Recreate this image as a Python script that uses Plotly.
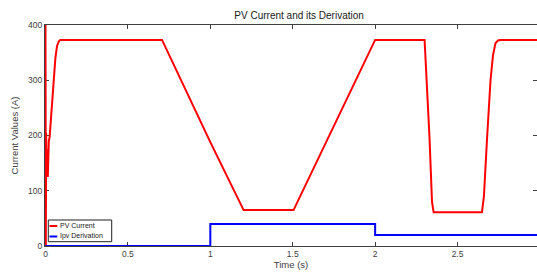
import plotly.graph_objects as go

# PV current (A) vs time (s)
pv_time = [0.0, 0.001, 0.002, 0.004, 0.006, 0.008, 0.010, 0.012, 0.014, 0.016, 0.018,
           0.020, 0.025, 0.035, 0.050, 0.060, 0.070, 0.080, 0.090, 0.100,
           0.707, 1.000, 1.202, 1.505, 2.000, 2.300, 2.315, 2.330, 2.345, 2.355,
           2.648, 2.660, 2.679, 2.700, 2.715, 2.730, 2.745, 2.760, 3.000]
pv_current = [400, 200, 0, 205, 130, 175, 128, 170, 125, 180, 150,
              190, 197, 240, 300, 340, 362, 370, 373, 373,
              373, 188, 65, 65, 373, 373, 290, 195, 80, 61,
              61, 90, 195, 300, 345, 367, 372, 373, 373]

# Ipv derivation
der_time = [0.0, 1.0, 1.0, 2.0, 2.0, 3.0]
der_value = [0, 0, 40, 40, 20, 20]

x_ticks = [0, 0.5, 1, 1.5, 2, 2.5, 3]
y_ticks = [0, 100, 200, 300, 400]

series_names = ["PV Current", "Ipv Derivation"]
series_colors = ["#ff0000", "#0000ff"]

axis_col = "#404040"
font_fam = "Liberation Sans, Arial, Helvetica, sans-serif"

fig = go.Figure()
fig.add_trace(go.Scatter(x=pv_time, y=pv_current, mode="lines", name=series_names[0],
                         line=dict(color=series_colors[0], width=2)))
fig.add_trace(go.Scatter(x=der_time, y=der_value, mode="lines", name=series_names[1],
                         line=dict(color=series_colors[1], width=2)))
# invisible trace to carry right-side ticks
fig.add_trace(go.Scatter(x=[0], y=[0], yaxis="y2", mode="markers",
                         marker=dict(opacity=0), showlegend=False, hoverinfo="skip"))

# custom compact legend (box, line samples, labels) in paper coordinates
fig.add_shape(type="rect", xref="paper", yref="paper", x0=0.0067, x1=0.1356,
              y0=0.0195, y1=0.1176, line=dict(color="#202020", width=1),
              fillcolor="white", layer="above")
row_y = [0.0905, 0.043]
for name, col, yy in zip(series_names, series_colors, row_y):
    fig.add_shape(type="line", xref="paper", yref="paper", x0=0.0091, x1=0.0250,
                  y0=yy, y1=yy, line=dict(color=col, width=2), layer="above")
    fig.add_annotation(xref="paper", yref="paper", x=0.0262, y=yy, text=name,
                       showarrow=False, xanchor="left", yanchor="middle",
                       font=dict(size=7, color="#202020"))

fig.update_layout(
    width=537, height=276,
    margin=dict(l=45, r=0, t=25, b=30),
    paper_bgcolor="white", plot_bgcolor="white",
    font=dict(family=font_fam, size=8.5, color=axis_col),
    title=dict(text="PV Current and its Derivation", x=0.557, xanchor="center",
               y=0.944, yanchor="middle", font=dict(size=10, color="#202020")),
    showlegend=False,
    xaxis=dict(range=[-0.003, 2.982], tickvals=x_ticks, ticktext=[str(v) for v in x_ticks],
               ticks="inside", ticklen=4, tickcolor=axis_col, showline=True,
               linecolor=axis_col, linewidth=1, mirror="ticks", showgrid=False,
               zeroline=False, automargin=False, layer="below traces",
               title=dict(text="Time (s)", standoff=2, font=dict(size=9.5, color=axis_col))),
    yaxis=dict(range=[0, 400], tickvals=y_ticks, ticks="inside", ticklen=4,
               tickcolor=axis_col, showline=True, linecolor=axis_col, linewidth=1,
               showgrid=False, zeroline=False, automargin=False, layer="below traces",
               title=dict(text="Current Values (A)", standoff=7, font=dict(size=9.5, color=axis_col))),
    yaxis2=dict(range=[0, 400], tickvals=y_ticks, overlaying="y", side="right",
                ticks="inside", ticklen=4, tickcolor=axis_col, showline=False,
                showticklabels=False, showgrid=False, zeroline=False),
)

fig.write_html("out.html", config={"displayModeBar": False},
               post_script="document.body.style.margin='0';")
